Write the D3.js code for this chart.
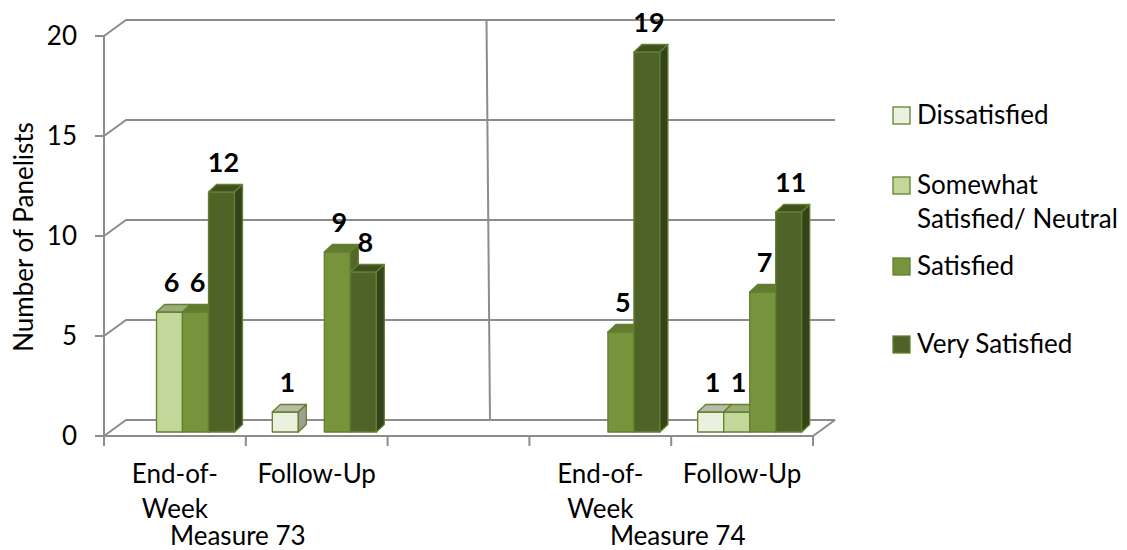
<!DOCTYPE html>
<html>
<head>
<meta charset="utf-8">
<script src="https://cdn.jsdelivr.net/npm/d3@7/dist/d3.min.js"></script>
<style>
  html, body { margin: 0; padding: 0; background: #ffffff; }
  svg { display: block; }
  text { font-family: Lato, "Noto Sans", sans-serif; fill: #000; }
</style>
</head>
<body>
<svg id="chart" width="1127" height="550"></svg>
<script>
// ---- data -------------------------------------------------------------
const measures = ["Measure 73", "Measure 74"];
const periods = ["End-of-Week", "Follow-Up"];
const series = ["Dissatisfied", "Somewhat Satisfied/ Neutral", "Satisfied", "Very Satisfied"];
// values per slot: M73 End-of-Week, M73 Follow-Up, M74 End-of-Week, M74 Follow-Up
const dissatisfied  = [0, 1, 0, 1];
const somewhat      = [6, 0, 0, 1];
const satisfied     = [6, 9, 5, 7];
const verySatisfied = [12, 8, 19, 11];
const yTicks = [0, 5, 10, 15, 20];
const periodLines = { "End-of-Week": ["End-of-", "Week"], "Follow-Up": ["Follow-Up"] };
const legendLines = [["Dissatisfied"], ["Somewhat", "Satisfied/ Neutral"], ["Satisfied"], ["Very Satisfied"]];

// ---- styling ----------------------------------------------------------
const fills = {
  front: ["#ebf1de", "#c4d79b", "#77933c", "#4f6228"],
  top:   ["#b6bca7", "#9cac79", "#637b30", "#3f4f20"],
  side:  ["#9ba08f", "#8a9a68", "#52662a", "#34431b"]
};
const barStroke = "#62812f";
const gridColor = "#8c8c8c";
const fontSize = 26;

// ---- layout -----------------------------------------------------------
const svg = d3.select("#chart");
const slots = [];
measures.forEach((m, mi) => {
  periods.forEach(p => slots.push(m + "|" + p));
  if (mi < measures.length - 1) slots.push("gap" + mi);
});
const valueSlots = slots.filter(s => !s.startsWith("gap"));
const seriesValues = [dissatisfied, somewhat, satisfied, verySatisfied];

const x0 = d3.scaleBand().domain(slots).range([104, 813]);
const groupInset = 26.5;            // bars sit toward the back-right of each band
const x1 = d3.scaleBand().domain(series).range([0, 104]);
const yFront = d3.scaleLinear().domain([0, 20]).range([436, 36]);
const yBar = d3.scaleLinear().domain([0, 20]).range([432, 32]);
const wallDX = 22, wallDY = -16;    // depth of the floor / side wall
const barDX = 8, barDY = -7.5;      // depth of each bar
const backRight = 835;

// ---- walls & gridlines ------------------------------------------------
const grid = svg.append("g")
  .attr("fill", "none").attr("stroke", gridColor).attr("stroke-width", 2);

yTicks.forEach(v => {
  const yf = yFront(v), yb = yf + wallDY;
  grid.append("path")
    .attr("d", `M${x0.range()[0]},${yf}L${x0.range()[0] + wallDX},${yb}L${backRight},${yb}`);
  grid.append("line")
    .attr("x1", x0.range()[0] - 9).attr("x2", x0.range()[0])
    .attr("y1", yf).attr("y2", yf);
});

// floor outline
grid.append("path")
  .attr("d", `M${x0.range()[0]},${yFront(0)}L${x0.range()[1]},${yFront(0)}L${backRight},${yFront(0) + wallDY}`);

// vertical axis line
grid.append("line")
  .attr("x1", x0.range()[0]).attr("x2", x0.range()[0])
  .attr("y1", yFront(20)).attr("y2", yFront(0) + 1);

// divider between the two measure groups on the back wall
const gapSlot = slots.find(s => s.startsWith("gap"));
const gapMid = x0(gapSlot) + x0.bandwidth() / 2;
grid.append("line")
  .attr("x1", gapMid + 28).attr("y1", yFront(20) + wallDY)
  .attr("x2", gapMid + 31.5).attr("y2", yFront(0) + wallDY);

// category ticks below the floor
const tickXs = slots.map(s => x0(s)).concat([x0.range()[1]]);
tickXs.forEach(tx => {
  grid.append("line")
    .attr("x1", tx).attr("x2", tx)
    .attr("y1", yFront(0)).attr("y2", yFront(0) + 10);
});

// ---- y axis labels -----------------------------------------------------
svg.append("g").selectAll("text").data(yTicks).join("text")
  .attr("x", 77).attr("y", d => yFront(d) + 2)
  .attr("text-anchor", "end").attr("dominant-baseline", "middle")
  .attr("font-size", fontSize)
  .text(d => d);

svg.append("text")
  .attr("transform", "translate(33,237) rotate(-90)")
  .attr("text-anchor", "middle")
  .attr("font-size", fontSize)
  .text("Number of Panelists");

// ---- bars ---------------------------------------------------------------
const bars = svg.append("g").attr("stroke", barStroke).attr("stroke-width", 1.3)
  .attr("stroke-linejoin", "round");
const labels = [];

valueSlots.forEach((slot, si) => {
  series.forEach((s, ki) => {
    const v = seriesValues[ki][si];
    if (!v) return;
    const xl = x0(slot) + groupInset + x1(s);
    const xr = xl + x1.bandwidth();
    const yt = yBar(v), yb = yBar(0);
    bars.append("rect")
      .attr("x", xl).attr("y", yt)
      .attr("width", xr - xl).attr("height", yb - yt)
      .attr("fill", fills.front[ki]);
    bars.append("path")
      .attr("d", `M${xl},${yt}L${xl + barDX},${yt + barDY}L${xr + barDX},${yt + barDY}L${xr},${yt}Z`)
      .attr("fill", fills.top[ki]);
    bars.append("path")
      .attr("d", `M${xr},${yt}L${xr + barDX},${yt + barDY}L${xr + barDX},${yb + barDY}L${xr},${yb}Z`)
      .attr("fill", fills.side[ki]);
    labels.push({ x: (xl + xr) / 2 + 2, y: yt - 20, v });
  });
});

svg.append("g").selectAll("text").data(labels).join("text")
  .attr("x", d => d.x).attr("y", d => d.y)
  .attr("text-anchor", "middle")
  .attr("font-size", 27).attr("font-weight", 700)
  .text(d => d.v);

// ---- category labels ---------------------------------------------------
const catG = svg.append("g").attr("font-size", fontSize).attr("text-anchor", "middle");
valueSlots.forEach(slot => {
  const p = slot.split("|")[1];
  const cx = x0(slot) + x0.bandwidth() / 2;
  periodLines[p].forEach((line, li) => {
    catG.append("text").attr("x", cx).attr("y", 483 + li * 35).text(line);
  });
});
const measureNudge = [-8, 6.5];
measures.forEach((m, mi) => {
  const first = x0(m + "|" + periods[0]);
  const last = x0(m + "|" + periods[periods.length - 1]) + x0.bandwidth();
  catG.append("text")
    .attr("x", (first + last) / 2 + measureNudge[mi]).attr("y", 545)
    .text(m);
});

// ---- legend -------------------------------------------------------------
const legendTop = [107, 177, 258, 336];
const legend = svg.append("g");
series.forEach((s, i) => {
  legend.append("rect")
    .attr("x", 893).attr("y", legendTop[i])
    .attr("width", 17).attr("height", 17)
    .attr("fill", fills.front[i]).attr("stroke", barStroke).attr("stroke-width", 1.3);
  legendLines[i].forEach((line, li) => {
    legend.append("text")
      .attr("x", 917).attr("y", legendTop[i] + 17 + li * 34)
      .attr("font-size", fontSize)
      .text(line);
  });
});
</script>
</body>
</html>
